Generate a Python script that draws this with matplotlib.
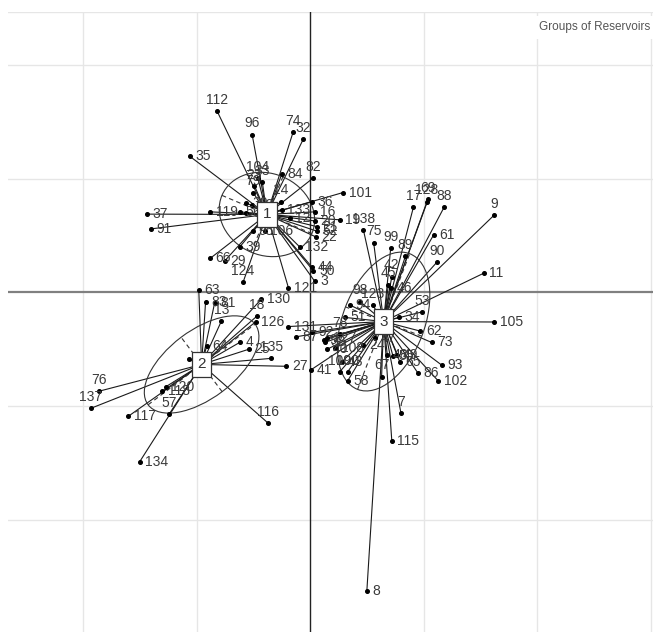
import numpy as np
import matplotlib
matplotlib.use("Agg")
import matplotlib.pyplot as plt
from matplotlib.patches import Ellipse

# ---------------- data ----------------
group_names = ["1", "2", "3"]
centers_x = [-0.38, -0.955, 0.648]
centers_y = [0.687, -0.634, -0.256]
ell_a = [0.43, 0.59, 0.64]
ell_b = [0.36, 0.30, 0.36]
ell_angle = [-23, 37, 69]

g1_labels = ["112", "96", "74", "32", "35", "82", "84", "104", "33", "23", "101", "36", "79", "30",
             "10", "14", "133", "37", "91", "119", "5", "6", "19", "52", "16", "20", "21", "22",
             "106", "39", "29", "66", "95", "124", "132", "44", "50", "3", "121", "12"]
g1_x = [-0.82, -0.51, -0.15, -0.06, -1.06, 0.03, -0.25, -0.46, -0.42, -0.49, 0.29, 0.02, -0.50, -0.56,
        -0.51, -0.26, -0.25, -1.44, -1.40, -0.88, -0.62, -0.56, 0.26, 0.06, 0.04, 0.04, 0.06, 0.05,
        -0.40, -0.62, -0.75, -0.88, -0.50, -0.59, -0.09, 0.02, 0.03, 0.04, -0.19, -0.18]
g1_y = [1.60, 1.39, 1.41, 1.35, 1.20, 1.01, 1.04, 1.01, 0.97, 0.94, 0.88, 0.80, 0.88, 0.79,
        0.77, 0.80, 0.73, 0.69, 0.56, 0.71, 0.71, 0.70, 0.64, 0.54, 0.71, 0.63, 0.58, 0.49,
        0.54, 0.40, 0.28, 0.30, 0.54, 0.09, 0.40, 0.22, 0.19, 0.10, 0.04, 0.66]

g2_labels = ["63", "83", "81", "13", "130", "18", "126", "4", "135", "27", "25", "64", "28",
             "76", "137", "117", "57", "134", "120", "118", "116"]
g2_x = [-0.98, -0.92, -0.84, -0.78, -0.43, -0.47, -0.48, -0.62, -0.34, -0.21, -0.54, -0.91, -1.07,
        -1.86, -1.93, -1.60, -1.24, -1.50, -1.27, -1.30, -0.37]
g2_y = [0.02, -0.08, -0.09, -0.25, -0.06, -0.21, -0.26, -0.44, -0.58, -0.65, -0.50, -0.47, -0.59,
        -0.87, -1.02, -1.09, -1.07, -1.49, -0.83, -0.87, -1.15]

g3_labels = ["138", "75", "17", "128", "69", "88", "9", "61", "90", "11", "105", "99", "89", "42",
             "45", "46", "98", "123", "94", "53", "34", "62", "73", "93", "102", "86", "7", "115",
             "8", "41", "108", "109", "100", "58", "67", "55", "24", "131", "87", "92", "97", "38",
             "78", "127", "40", "43", "47", "48", "49", "51", "65"]
g3_x = [0.47, 0.56, 0.91, 1.03, 1.04, 1.18, 1.62, 1.09, 1.12, 1.53, 1.62, 0.71, 0.84, 0.72,
        0.69, 0.71, 0.44, 0.55, 0.35, 0.99, 0.78, 0.97, 1.07, 1.16, 1.13, 0.95, 0.80, 0.72,
        0.50, 0.01, 0.22, 0.26, 0.33, 0.33, 0.63, 0.73, 0.47, -0.19, -0.12, 0.02, 0.12, 0.13,
        0.26, 0.15, 0.15, 0.28, 0.57, 0.68, 0.77, 0.31, 0.79]
g3_y = [0.55, 0.44, 0.75, 0.80, 0.82, 0.75, 0.68, 0.51, 0.27, 0.17, -0.26, 0.39, 0.32, 0.14,
        0.07, 0.04, -0.08, -0.11, -0.11, -0.17, -0.22, -0.34, -0.44, -0.64, -0.78, -0.71, -1.06, -1.31,
        -2.63, -0.68, -0.49, -0.70, -0.70, -0.78, -0.74, -0.56, -0.46, -0.30, -0.39, -0.35, -0.42, -0.44,
        -0.37, -0.40, -0.50, -0.61, -0.40, -0.55, -0.55, -0.22, -0.61]

title = "Groups of Reservoirs"
grid_x = [-2, -1, 1, 2, 3]
grid_y = [-2, -1, 1, 2]

# labels drawn above their point (others to the right)
labels_above = {"112", "96", "74", "32", "82", "104", "33", "23", "79", "14", "9", "7", "76", "137",
                "57", "116", "138", "124", "13", "135", "75", "17", "128", "69", "88", "90", "99",
                "89", "42", "45", "98", "123", "53", "67", "78", "109", "100", "18"}

# ---------------- plot ----------------
fig = plt.figure(figsize=(6.61, 6.32), dpi=100)
ax = fig.add_axes([8 / 661, 0, 645 / 661, 620 / 632])
ax.set_xlim(-2.66, 3.02)
ax.set_ylim(-2.99, 2.47)
ax.axis("off")

for v in grid_x:
    ax.axvline(v, color="#e6e6e6", lw=1.0, zorder=0)
for h in grid_y:
    ax.axhline(h, color="#e6e6e6", lw=1.0, zorder=0)
ax.axhline(2.47, color="#e6e6e6", lw=1.0, zorder=0)
ax.axvline(0, color="#222222", lw=1.0, zorder=1)
ax.axhline(0, color="#808080", lw=1.6, zorder=1)

font = ["Liberation Sans Narrow", "Liberation Sans", "DejaVu Sans"]

groups = [(g1_labels, g1_x, g1_y), (g2_labels, g2_x, g2_y), (g3_labels, g3_x, g3_y)]
for gi, (labs, xs, ys) in enumerate(groups):
    cx, cy = centers_x[gi], centers_y[gi]
    for lab, x, y in zip(labs, xs, ys):
        ax.plot([cx, x], [cy, y], color="#1a1a1a", lw=0.8, zorder=2)
    ax.plot(xs, ys, "o", color="black", ms=2.6, zorder=3)
    for lab, x, y in zip(labs, xs, ys):
        if lab in labels_above:
            ax.annotate(lab, (x, y), xytext=(0, 3), textcoords="offset points",
                        ha="center", va="bottom", fontsize=10, color="#3a3a3a",
                        family=font, zorder=4)
        else:
            ax.annotate(lab, (x, y), xytext=(4, 0), textcoords="offset points",
                        ha="left", va="center", fontsize=10, color="#3a3a3a",
                        family=font, zorder=4)
    # ellipse and its dashed axes
    e = Ellipse((cx, cy), 2 * ell_a[gi], 2 * ell_b[gi], angle=ell_angle[gi],
                fill=False, ec="#333333", lw=0.8, zorder=2)
    ax.add_patch(e)
    t = np.deg2rad(ell_angle[gi])
    ax.plot([cx - ell_a[gi] * np.cos(t), cx + ell_a[gi] * np.cos(t)],
            [cy - ell_a[gi] * np.sin(t), cy + ell_a[gi] * np.sin(t)],
            color="#333333", lw=0.8, ls=(0, (4, 3)), zorder=2)
    ax.plot([cx + ell_b[gi] * np.sin(t), cx - ell_b[gi] * np.sin(t)],
            [cy - ell_b[gi] * np.cos(t), cy + ell_b[gi] * np.cos(t)],
            color="#333333", lw=0.8, ls=(0, (4, 3)), zorder=2)
    ax.text(cx, cy, group_names[gi], ha="center", va="center", fontsize=11,
            color="#333333", family=font, zorder=6,
            bbox=dict(boxstyle="square,pad=0.35", fc="white", ec="#333333", lw=0.9))

ax.text(0.995, 0.985, title, transform=ax.transAxes, ha="right", va="top",
        fontsize=8.5, color="#555555", family=["Liberation Sans", "DejaVu Sans"], zorder=7,
        bbox=dict(boxstyle="square,pad=0.45", fc="white", ec="none"))

fig.savefig("out.png", dpi=100)
